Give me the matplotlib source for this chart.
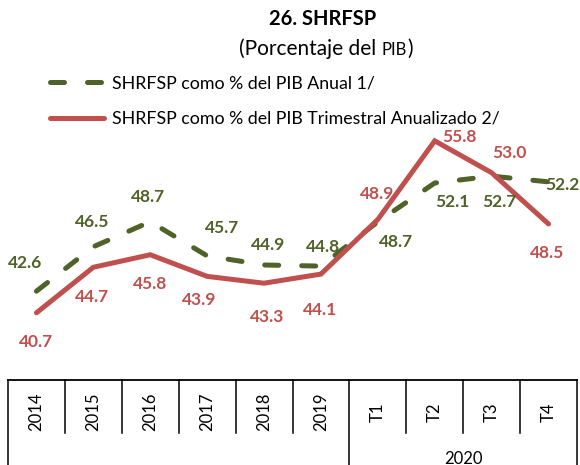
import numpy as np
import matplotlib
matplotlib.use("Agg")
import matplotlib.pyplot as plt
from matplotlib.transforms import blended_transform_factory
from matplotlib.lines import Line2D

plt.rcParams['font.family'] = ['Lato', 'DejaVu Sans']

categories = ['2014', '2015', '2016', '2017', '2018', '2019', 'T1', 'T2', 'T3', 'T4']
group_label = '2020'
anual = [42.6, 46.5, 48.7, 45.7, 44.9, 44.8, 48.7, 52.1, 52.7, 52.2]
trimestral = [40.7, 44.7, 45.8, 43.9, 43.3, 44.1, 48.9, 55.8, 53.0, 48.5]
label_anual = 'SHRFSP como % del PIB Anual 1/'
label_trim = 'SHRFSP como % del PIB Trimestral Anualizado 2/'

GREEN = '#4F6228'
RED = '#C0504D'

# label offsets in pixels (dx, dy) from each point
off_anual = [(-11, 28), (-1, 25), (-2, 25), (15, 28), (4, 20), (2, 19),
             (18, -20), (18, -19), (8, -26), (14, -3)]
off_trim = [(0, -29), (-1, -30), (0, -29), (-8, -24), (3, -34), (-1, -36),
            (-1, 25), (25, 4), (18, 20), (-1, -29)]

W, H = 580, 465
fig = plt.figure(figsize=(W / 100, H / 100), dpi=100)
ax = fig.add_axes([8 / W, 85 / H, 569 / W, 264.2 / H])

x = np.arange(len(categories))
ax.plot(x, trimestral, color=RED, lw=3.6, solid_capstyle='round',
        solid_joinstyle='miter', label=label_trim, zorder=3)
ax.plot(x, anual, color=GREEN, lw=3.6, linestyle=(0, (2.8, 4.6)),
        dash_capstyle='round', label=label_anual, zorder=2)

for xi, v, (dx, dy) in zip(x, anual, off_anual):
    ax.annotate(f'{v:.1f}', (xi, v), xytext=(dx, dy), textcoords='offset pixels',
                ha='center', va='center', color=GREEN, fontsize=12.5,
                fontweight='bold', annotation_clip=False)
for xi, v, (dx, dy) in zip(x, trimestral, off_trim):
    ax.annotate(f'{v:.1f}', (xi, v), xytext=(dx, dy), textcoords='offset pixels',
                ha='center', va='center', color=RED, fontsize=12.5,
                fontweight='bold', annotation_clip=False)

ax.set_xlim(-0.5, len(categories) - 0.5)
ax.set_ylim(34.8, 58)
for s in ['left', 'right', 'top']:
    ax.spines[s].set_visible(False)
ax.spines['bottom'].set_linewidth(1.3)
ax.set_xticks([])
ax.set_yticks([])

# category table below the axis
tr = blended_transform_factory(ax.transData, fig.transFigure)
y_top = 85 / H
y_mid = (465 - 433) / H
for i in range(len(categories) + 1):
    xe = i - 0.5
    full = i in (0, 6, len(categories))
    fig.add_artist(Line2D([xe, xe], [y_top, 0 if full else y_mid],
                          transform=tr, color='black', lw=1.1))
for xi, c in zip(x, categories):
    fig.text(xi, (465 - 412) / H, c, transform=tr, rotation=90,
             ha='center', va='center', fontsize=12)
fig.text(7.5, (465 - 459) / H, group_label, transform=tr,
         ha='center', va='center', fontsize=12)

ax.legend(loc='upper left', bbox_to_anchor=(50.5 / W, 1 - 75.5 / H),
          bbox_transform=fig.transFigure, frameon=False, fontsize=12.8,
          handlelength=3.03, handletextpad=0.42, labelspacing=1.09,
          borderaxespad=0, borderpad=0,
          handles=[ax.lines[1], ax.lines[0]])

# title
fig.text(323 / W, 1 - 19 / H, '26. SHRFSP', ha='center', va='center',
         fontsize=14.5, fontweight='bold')

# subtitle with small-caps PIB
fig.canvas.draw()
r = fig.canvas.get_renderer()
parts = [('(Porcentaje del ', 15), ('PIB', 12), (')', 15)]
texts = [fig.text(0, 1 - 55 / H, t, ha='left', va='baseline', fontsize=fs)
         for t, fs in parts]
widths = [t.get_window_extent(r).width for t in texts]
xs = 326 - sum(widths) / 2
for t, w in zip(texts, widths):
    t.set_x(xs / W)
    xs += w

fig.savefig('out.png', dpi=100)
